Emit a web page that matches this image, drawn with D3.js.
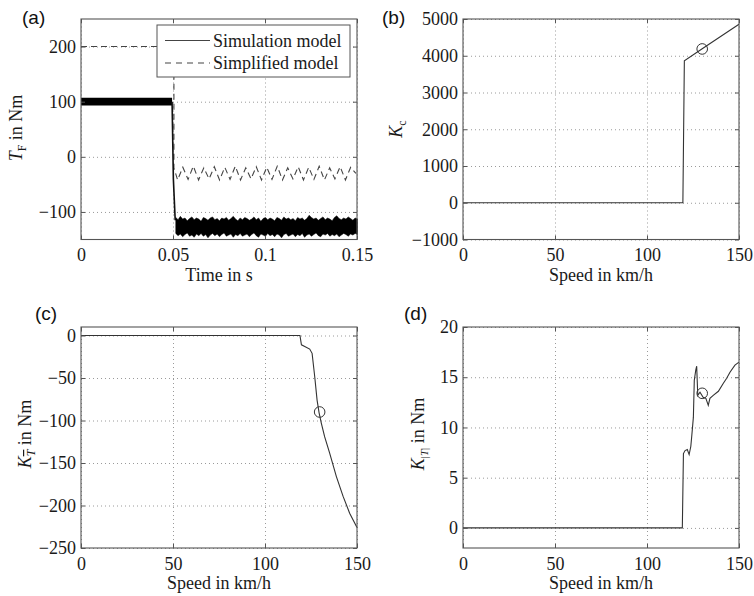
<!DOCTYPE html>
<html><head><meta charset="utf-8">
<script src="https://cdn.jsdelivr.net/npm/d3@7"></script>
<style>
body{margin:0;background:#fff;}
svg{display:block;}
.grid line{stroke:#9a9a9a;stroke-dasharray:1,3;stroke-width:1;}
.grid path{display:none;}
.ax path{display:none;}
.ax line{stroke:#555;}
.ax text{font-family:"Liberation Serif",serif;font-size:18px;fill:#1a1a1a;}
.ttl{font-family:"Liberation Serif",serif;font-size:18px;fill:#1a1a1a;}
.plab{font-family:"Liberation Sans",Arial,sans-serif;font-size:19px;fill:#111;}
</style></head>
<body><svg id="c" width="754" height="596"></svg>
<script>
// ---------- data ----------
// (a) time axis
const aXTicks = [0, 0.05, 0.1, 0.15];
const aXTickLabels = ['0', '0.05', '0.1', '0.15'];
const aYTicks = [-100, 0, 100, 200];
// simulation model: band before switch (envelope)
const simPreT  = [0, 0.0495];
const simPreHi = [107, 107];
const simPreLo = [93, 93];
// switching edge
const simDropT = [0.0495, 0.0502, 0.0512];
const simDropV = [100, -40, -115];
// simulation model: band after switch (envelope)
const simPostT0 = 0.0515, simPostDt = 0.00125;
const simPostHi = [-110,-114,-108,-113,-111,-116,-112,-109,-114,-111,
  -113,-117,-110,-112,-115,-111,-109,-114,-112,-116,
  -111,-113,-110,-115,-112,-108,-113,-116,-111,-114,
  -110,-112,-115,-113,-109,-114,-111,-117,-112,-110,
  -114,-111,-113,-116,-110,-112,-115,-109,-113,-111,
  -114,-112,-116,-110,-113,-111,-115,-112,-106,-110,
  -113,-111,-115,-112,-109,-114,-111,-113,-116,-110,
  -107,-112,-114,-111,-113,-109,-112,-115,-111,-113];
const simPostLo = [-139,-143,-140,-145,-141,-138,-144,-142,-146,-140,
  -143,-139,-144,-141,-147,-142,-139,-143,-140,-145,
  -141,-138,-144,-142,-140,-146,-141,-143,-139,-144,
  -142,-140,-145,-141,-138,-143,-146,-140,-142,-144,
  -139,-143,-141,-145,-140,-142,-147,-141,-139,-144,
  -142,-140,-145,-141,-143,-139,-146,-142,-140,-144,
  -141,-138,-143,-145,-140,-142,-139,-144,-141,-143,
  -140,-145,-142,-139,-141,-144,-140,-142,-139,-141];
// simplified model
const simpHeadT = [0, 0.0505, 0.0505];
const simpHeadV = [200, 200, -20];
const simpOscT0 = 0.0525, simpOscDt = 0.00285;
const simpOscV = [-42,-19,-41,-17,-42,-20,-40,-18,-42,-19,-41,-17,-42,-20,-40,-18,-42,-19,-41,-17,-42,-20,-40,-18,-42,-19,-41,-17,-42,-20,-40,-18,-42,-19,-30];
const legendLabels = ['Simulation model', 'Simplified model'];

// (b)
const speedTicks = [0, 50, 100, 150];
const bYTicks = [-1000, 0, 1000, 2000, 3000, 4000, 5000];
const bSpeed = [0, 119.5, 120.3, 130, 140, 150];
const bK     = [0, 0, 3860, 4190, 4525, 4855];
const bMark  = [130, 4185];

// (c)
const cYTicks = [-250, -200, -150, -100, -50, 0];
const cSpeed = [0, 119.0, 119.8, 121.6, 124.3, 125.6, 127.0, 128.3, 129.4, 130.6, 132.4, 135.1, 138.8, 142.4, 146.0, 150];
const cK     = [0, 0, -11, -13, -16, -21, -48, -76, -91, -103, -119, -138, -166, -189, -209, -226];
const cMark  = [129.7, -90];

// (d)
const dYTicks = [0, 5, 10, 15, 20];
const dSpeed = [0, 119.2, 119.8, 120.7, 121.9, 122.9, 123.8, 124.3, 125.2, 125.7, 126.5, 127.0, 127.6, 128.8, 130.5, 132.0, 133.3, 134.2, 136.0, 138.8, 141.5, 143.3, 145.1, 147.8, 150];
const dK     = [0, 0, 7.4, 7.7, 7.8, 7.3, 8.1, 9.1, 11.0, 14.7, 15.7, 16.1, 13.2, 13.5, 13.0, 12.9, 12.2, 12.9, 13.2, 13.6, 14.4, 14.9, 15.5, 16.2, 16.5];
const dMark  = [130, 13.4];

// ---------- drawing ----------
const svg = d3.select('#c');
const fmt = d3.format('d');

function panel(o){
  const x = d3.scaleLinear().domain(o.xd).range([o.l, o.r]);
  const y = d3.scaleLinear().domain(o.yd).range([o.b, o.t]);
  const g = svg.append('g');
  const W = o.r - o.l, H = o.b - o.t;
  g.append('g').attr('class','grid').attr('transform',`translate(0,${o.b})`)
    .call(d3.axisBottom(x).tickValues(o.xt).tickSize(-H).tickFormat(''));
  g.append('g').attr('class','grid').attr('transform',`translate(${o.l},0)`)
    .call(d3.axisLeft(y).tickValues(o.yt).tickSize(-W).tickFormat(''));
  const data = g.append('g');
  const front = g.append('g');
  front.append('rect').attr('x',o.l).attr('y',o.t).attr('width',W).attr('height',H)
    .attr('fill','none').attr('stroke','#555').attr('stroke-width',1.1);
  front.append('g').attr('class','ax').attr('transform',`translate(0,${o.b})`)
    .call(d3.axisBottom(x).tickValues(o.xt).tickSizeInner(-4).tickSizeOuter(0).tickPadding(9)
      .tickFormat((d,i)=>o.xl ? o.xl[i] : fmt(d)));
  front.append('g').attr('class','ax').attr('transform',`translate(0,${o.t})`)
    .call(d3.axisTop(x).tickValues(o.xt).tickSizeInner(-4).tickSizeOuter(0).tickFormat(''));
  front.append('g').attr('class','ax').attr('transform',`translate(${o.l},0)`)
    .call(d3.axisLeft(y).tickValues(o.yt).tickSizeInner(-4).tickSizeOuter(0).tickPadding(5).tickFormat(fmt));
  front.append('g').attr('class','ax').attr('transform',`translate(${o.r},0)`)
    .call(d3.axisRight(y).tickValues(o.yt).tickSizeInner(-4).tickSizeOuter(0).tickFormat(''));
  front.selectAll('.ax text').attr('fill','#1a1a1a');
  front.append('text').attr('class','ttl').attr('x',(o.l+o.r)/2).attr('y',o.b+41)
    .attr('text-anchor','middle').text(o.xtitle);
  front.append('text').attr('class','plab').attr('x',o.plx).attr('y',o.ply).text(o.plab);
  return {x, y, data, front};
}

function lineOf(x,y,xs,ys){
  return d3.line().x((d,i)=>x(xs[i])).y((d,i)=>y(ys[i]))(xs);
}

// ---- (a)
const A = panel({l:81,r:357,t:19,b:239.5,xd:[0,0.15],yd:[-150,250],xt:aXTicks,xl:aXTickLabels,yt:aYTicks,
  xtitle:'Time in s',plab:'(a)',plx:22,ply:24});
{
  const {x,y,data} = A;
  const sT = simpHeadT.concat(simpOscV.map((v,i)=>simpOscT0+i*simpOscDt));
  const sV = simpHeadV.concat(simpOscV);
  data.append('path').attr('d',lineOf(x,y,sT,sV)).attr('fill','none')
    .attr('stroke','#444').attr('stroke-width',1.1).attr('stroke-dasharray','6,4');
  const area = d3.area().x(d=>x(d.t)).y0(d=>y(d.lo)).y1(d=>y(d.hi));
  data.append('path').attr('d',area(simPreT.map((t,i)=>({t,hi:simPreHi[i],lo:simPreLo[i]}))))
    .attr('fill','#000');
  data.append('path').attr('d',lineOf(x,y,simDropT,simDropV)).attr('fill','none')
    .attr('stroke','#111').attr('stroke-width',1.6);
  const post = simPostHi.map((h,i)=>({t:simPostT0+i*simPostDt,hi:h,lo:simPostLo[i]}));
  data.append('path').attr('d',area(post)).attr('fill','#000').attr('stroke','#000').attr('stroke-width',0.5);
  A.front.append('text').attr('class','ttl').attr('transform','translate(22,128) rotate(-90)')
    .attr('text-anchor','middle')
    .html('<tspan font-style="italic">T</tspan><tspan font-size="12" dy="4">F</tspan><tspan dy="-4"> in Nm</tspan>');
  const lg = A.front.append('g');
  lg.append('rect').attr('x',157).attr('y',25).attr('width',193).attr('height',52)
    .attr('fill','#fff').attr('stroke','#555').attr('stroke-width',1);
  legendLabels.forEach((lab,i)=>{
    const yy = 40.5 + i*22.5;
    lg.append('line').attr('x1',165).attr('x2',210).attr('y1',yy).attr('y2',yy)
      .attr('stroke','#444').attr('stroke-width',1.1).attr('stroke-dasharray', i ? '6,5' : null);
    lg.append('text').attr('class','ttl').attr('x',213).attr('y',yy+6).text(lab);
  });
}

// ---- (b)
const B = panel({l:463,r:739,t:19,b:239.5,xd:[0,150],yd:[-1000,5000],xt:speedTicks,yt:bYTicks,
  xtitle:'Speed in km/h',plab:'(b)',plx:382,ply:24});
{
  const {x,y,data} = B;
  data.append('path').attr('d',lineOf(x,y,bSpeed,bK)).attr('fill','none').attr('stroke','#333').attr('stroke-width',1.1);
  data.append('circle').attr('cx',x(bMark[0])).attr('cy',y(bMark[1])).attr('r',5.3)
    .attr('fill','none').attr('stroke','#333').attr('stroke-width',1);
  B.front.append('text').attr('class','ttl').attr('transform','translate(402,129) rotate(-90)')
    .attr('text-anchor','middle')
    .html('<tspan font-style="italic">K</tspan><tspan font-size="12" dy="4">c</tspan>');
}

// ---- (c)
const C = panel({l:81,r:357,t:327,b:548,xd:[0,150],yd:[-250,10],xt:speedTicks,yt:cYTicks,
  xtitle:'Speed in km/h',plab:'(c)',plx:35,ply:320});
{
  const {x,y,data} = C;
  data.append('path').attr('d',lineOf(x,y,cSpeed,cK)).attr('fill','none').attr('stroke','#333').attr('stroke-width',1.1);
  data.append('circle').attr('cx',x(cMark[0])).attr('cy',y(cMark[1])).attr('r',5.3)
    .attr('fill','none').attr('stroke','#333').attr('stroke-width',1);
  C.front.append('text').attr('class','ttl').attr('transform','translate(31,434) rotate(-90)')
    .attr('text-anchor','middle')
    .html('<tspan font-style="italic">K</tspan><tspan font-size="12" dy="4" font-style="italic" text-decoration="overline">T</tspan><tspan dy="-4"> in Nm</tspan>');
}

// ---- (d)
const D = panel({l:463,r:739,t:327,b:548,xd:[0,150],yd:[-2,20],xt:speedTicks,yt:dYTicks,
  xtitle:'Speed in km/h',plab:'(d)',plx:404,ply:320});
{
  const {x,y,data} = D;
  data.append('path').attr('d',lineOf(x,y,dSpeed,dK)).attr('fill','none').attr('stroke','#333').attr('stroke-width',1.1);
  data.append('circle').attr('cx',x(dMark[0])).attr('cy',y(dMark[1])).attr('r',5.3)
    .attr('fill','none').attr('stroke','#333').attr('stroke-width',1);
  D.front.append('text').attr('class','ttl').attr('transform','translate(424,434) rotate(-90)')
    .attr('text-anchor','middle')
    .html('<tspan font-style="italic">K</tspan><tspan font-size="11" dy="4">|<tspan font-style="italic">T</tspan>|</tspan><tspan dy="-4"> in Nm</tspan>');
}
</script></body></html>
